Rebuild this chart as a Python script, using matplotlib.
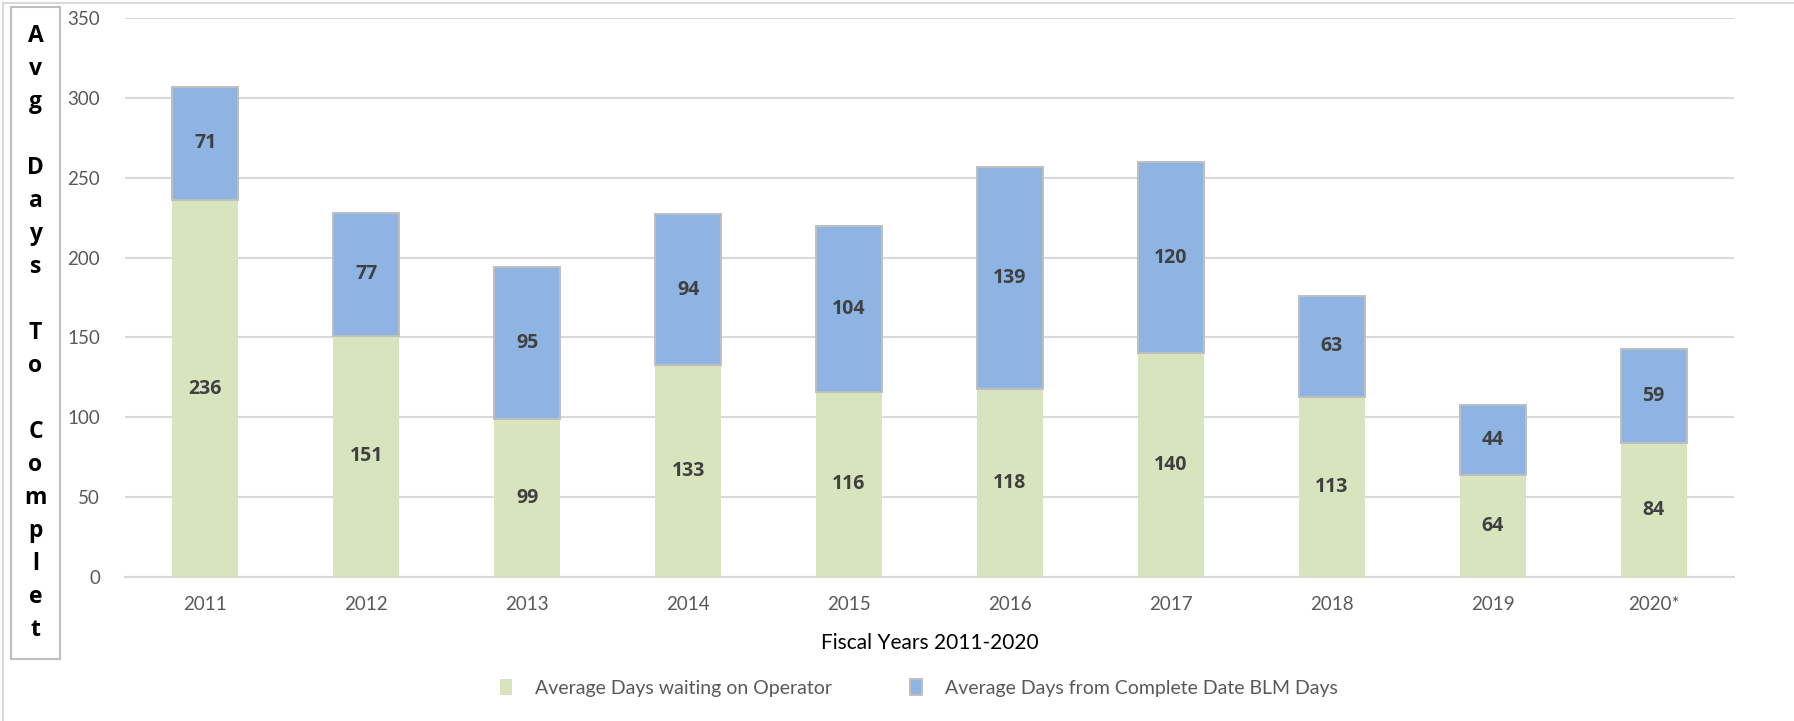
import matplotlib
matplotlib.use("Agg")
import matplotlib.pyplot as plt
from matplotlib.patches import Rectangle
from matplotlib.lines import Line2D
import numpy as np

plt.rcParams['font.family'] = ['Lato', 'DejaVu Sans']
BOLD_FAMILY = ['Open Sans', 'DejaVu Sans']

years = ["2011", "2012", "2013", "2014", "2015", "2016", "2017", "2018", "2019", "2020*"]
waiting_operator = [236, 151, 99, 133, 116, 118, 140, 113, 64, 84]
blm_days = [71, 77, 95, 94, 104, 139, 120, 63, 44, 59]
yticks = [0, 50, 100, 150, 200, 250, 300, 350]

green = "#D7E4BD"
blue = "#8EB4E3"
edge = "#BFBFBF"
grid = "#D9D9D9"
tick_col = "#595959"
label_col = "#404040"

W, H = 1794, 721
fig = plt.figure(figsize=(W / 100, H / 100), dpi=100)
ax = fig.add_axes([125 / W, 1 - 577 / H, (1734 - 125) / W, (577 - 18) / H])

x = np.arange(len(years))
bw = 0.41
b1 = ax.bar(x, waiting_operator, width=bw, color=green, edgecolor="none", zorder=3,
            label="Average Days waiting on Operator")
b2 = ax.bar(x, blm_days, width=bw, bottom=waiting_operator, color=blue, edgecolor=edge,
            linewidth=1.4, zorder=3, label="Average Days from Complete Date BLM Days")

for rects, vals in ((b1, waiting_operator), (b2, blm_days)):
    ax.bar_label(rects, labels=[str(v) for v in vals], label_type="center",
                 fontsize=14, fontweight="bold", color=label_col, family=BOLD_FAMILY)

ax.set_ylim(0, 350)
ax.set_xlim(-0.5, len(years) - 0.5)
ax.set_yticks(yticks)
ax.set_xticks(x)
ax.set_xticklabels(years)
ax.tick_params(axis="both", length=0, labelsize=13.5, colors=tick_col)
ax.tick_params(axis="y", pad=18)
ax.tick_params(axis="x", pad=14)
ax.yaxis.grid(True, color=grid, linewidth=1.5, zorder=0)
for s in ["top", "right", "left"]:
    ax.spines[s].set_visible(False)
ax.spines["bottom"].set_color(grid)
ax.spines["bottom"].set_linewidth(1.5)

ax.set_xlabel("Fiscal Years 2011-2020", fontsize=15, color="black", labelpad=14)

leg = fig.legend(handles=[b1, b2], loc="center", bbox_to_anchor=(919 / W, 1 - 688 / H),
                 ncol=2, frameon=False, fontsize=14, handlelength=0.6, handleheight=0.9,
                 columnspacing=4.0, handletextpad=1.2)
for t in leg.get_texts():
    t.set_color(tick_col)

# vertical y-axis label box
fig.patches.append(Rectangle((11 / W, 1 - 659 / H), (60 - 11) / W, (659 - 7) / H,
                             transform=fig.transFigure, facecolor="white",
                             edgecolor="#BFBFBF", linewidth=1.5))
ylabel_lines = ["A", "v", "g", "", "D", "a", "y", "s", "", "T", "o", "", "C", "o", "m", "p", "l", "e", "t"]
fig.text(35.5 / W, 1 - 333 / H, "\n".join(ylabel_lines),
         ha="center", va="center", fontsize=16.5, fontweight="bold", color="black",
         linespacing=1.5, family=BOLD_FAMILY)

# outer chart frame (left and top edges)
fig.add_artist(Line2D([3 / W, 3 / W], [0, 1 - 3 / H], transform=fig.transFigure,
                      color=grid, linewidth=1.5))
fig.add_artist(Line2D([3 / W, 1793 / W], [1 - 3 / H, 1 - 3 / H], transform=fig.transFigure,
                      color=grid, linewidth=1.5))

fig.savefig("out.png", dpi=100, facecolor="white")
